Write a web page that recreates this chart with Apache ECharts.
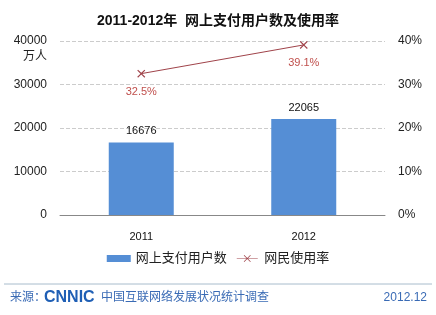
<!DOCTYPE html>
<html>
<head>
<meta charset="utf-8">
<script src="https://cdn.jsdelivr.net/npm/echarts@6/dist/echarts.min.js"></script>
<style>
html,body{margin:0;padding:0;background:#fff;}
#root{width:436px;height:315px;}
</style>
</head>
<body>
<div id="root"></div>
<script>
var years = ['2011', '2012'];
var users = [16676, 22065];
var rates = [32.5, 39.1];

var FONT = '"Liberation Sans", "Noto Sans CJK SC", Arial, sans-serif';
var xMark = 'path://M0,1L1,0L5,4L9,0L10,1L6,5L10,9L9,10L5,6L1,10L0,9L4,5Z';
var lineIcon = 'path://M0,3.6L24,3.6L24,4.4L0,4.4Z M8,0.6L8.6,0L12,3.4L15.4,0L16,0.6L12.6,4L16,7.4L15.4,8L12,4.6L8.6,8L8,7.4L11.4,4Z';

var chart = echarts.init(document.getElementById('root'));
var option = {
  animation: false,
  backgroundColor: '#fff',
  textStyle: { fontFamily: FONT },
  title: {
    text: '2011-2012年  网上支付用户数及使用率',
    left: 'center',
    top: 9,
    textStyle: { fontSize: 14, fontWeight: 'bold', color: '#111', fontFamily: FONT }
  },
  grid: { left: 60, right: 51, top: 41, bottom: 100 },
  legend: {
    bottom: 45,
    left: 'center',
    itemGap: 10,
    textStyle: { fontSize: 13, color: '#222', fontFamily: FONT },
    data: [
      { name: '网上支付用户数', icon: 'rect', itemStyle: { color: '#558ed5' } },
      { name: '网民使用率', icon: lineIcon, itemStyle: { color: '#a0434a' } }
    ],
    itemWidth: 24,
    itemHeight: 7
  },
  xAxis: {
    type: 'category',
    data: years,
    axisLine: { lineStyle: { color: '#888' } },
    axisTick: { show: false },
    axisLabel: { color: '#111', fontSize: 11, margin: 16 }
  },
  yAxis: [
    {
      type: 'value', min: 0, max: 40000, interval: 10000,
      axisLine: { show: false }, axisTick: { show: false },
      splitLine: { lineStyle: { color: '#ccc', type: 'dashed' } },
      axisLabel: { color: '#222', fontSize: 12, margin: 13, formatter: function (v) { return String(v); } }
    },
    {
      type: 'value', min: 0, max: 40, interval: 10,
      axisLine: { show: false }, axisTick: { show: false },
      splitLine: { show: false },
      axisLabel: { color: '#222', fontSize: 12, margin: 13, formatter: '{value}%' }
    }
  ],
  series: [
    {
      name: '网上支付用户数',
      type: 'bar',
      data: users,
      barWidth: '40%',
      itemStyle: { color: '#558ed5' },
      label: { show: true, position: 'top', distance: 6, color: '#111', fontSize: 11 }
    },
    {
      name: '网民使用率',
      type: 'line',
      yAxisIndex: 1,
      data: rates,
      symbol: xMark,
      symbolSize: 8,
      lineStyle: { color: '#a0434a', width: 1 },
      itemStyle: { color: '#a0434a' },
      label: {
        show: true, position: 'bottom', distance: 9,
        color: '#c0504d', fontSize: 11,
        formatter: function (p) { return p.value.toFixed(1) + '%'; }
      }
    }
  ],
  graphic: [
    { type: 'text', right: 389, top: 51, style: { text: '万人', fill: '#222', font: '12px ' + FONT } },
    { type: 'line', shape: { x1: 4, y1: 284, x2: 432, y2: 284 }, style: { stroke: '#a8bccc', lineWidth: 1 } },
    { type: 'text', left: 10, top: 292, style: { text: '来源：', fill: '#3a6bb5', font: '12px ' + FONT } },
    { type: 'text', left: 44, top: 290, style: { text: 'CNNIC', fill: '#1f5fb5', font: 'bold 16px ' + FONT } },
    { type: 'text', left: 101, top: 292, style: { text: '中国互联网络发展状况统计调查', fill: '#3a6bb5', font: '12px ' + FONT } },
    { type: 'text', right: 9, top: 292, style: { text: '2012.12', fill: '#3a6bb5', font: '12px ' + FONT } }
  ]
};
chart.setOption(option);
</script>
</body>
</html>
